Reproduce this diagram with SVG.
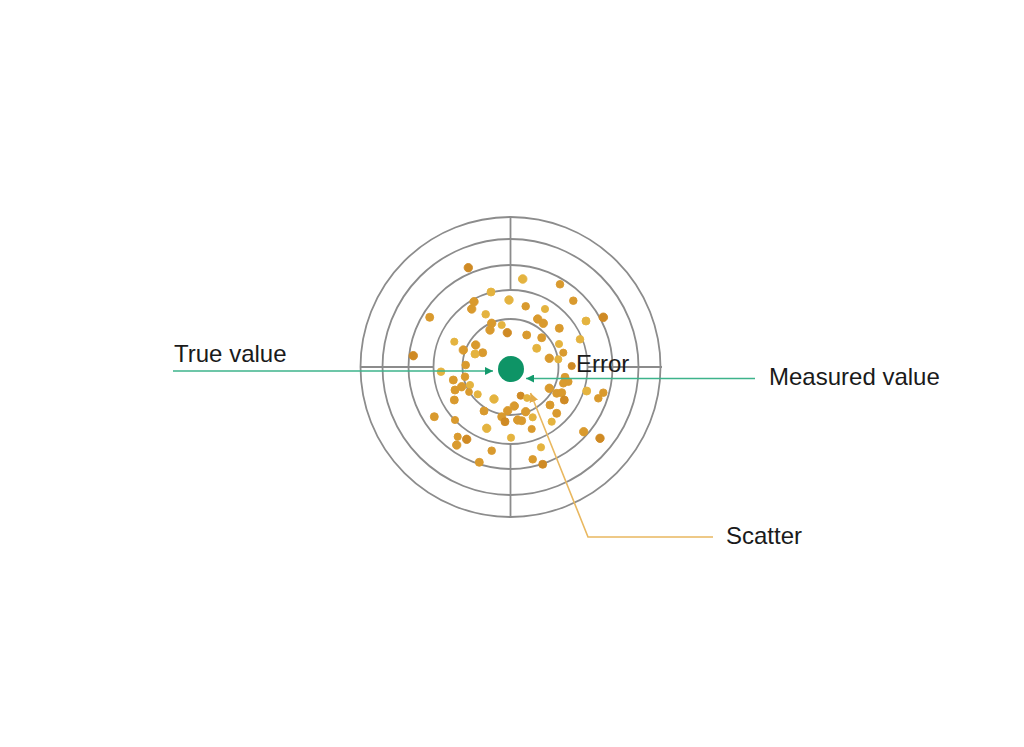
<svg xmlns="http://www.w3.org/2000/svg" width="1024" height="747" viewBox="0 0 1024 747">
<style>
.ring{fill:none;stroke:#8c8c8c;stroke-width:1.8}
.cross{stroke:#8c8c8c;stroke-width:1.8}
.d{fill:#d99a2e;stroke:#d99a2e;stroke-width:0.9}
.l{fill:#e4b33f;stroke:#e4b33f;stroke-width:0.9}
.k{fill:#cf8a24;stroke:#cf8a24;stroke-width:0.9}
.lbl{font-family:"Liberation Sans",Arial,sans-serif;font-size:24px;fill:#1a1a1a}
.gl{stroke:#3db38b;stroke-width:1.6;fill:none}
.tl{stroke:#e9b860;stroke-width:1.6;fill:none}
</style>
<defs>
<marker id="ag" viewBox="0 0 10 10" refX="10" refY="5" markerWidth="8" markerHeight="8" markerUnits="userSpaceOnUse" orient="auto">
<path d="M0,0 L10,5 L0,10 Z" fill="#139a6c"/>
</marker>
<marker id="at" viewBox="0 0 10 10" refX="10" refY="5" markerWidth="9" markerHeight="9" markerUnits="userSpaceOnUse" orient="auto">
<path d="M0,0 L10,5 L0,10 Z" fill="#e3ac4a"/>
</marker>
</defs>
<rect width="1024" height="747" fill="#ffffff"/>
<g id="target">
<circle class="ring" cx="510.5" cy="367" r="150"/>
<circle class="ring" cx="510.5" cy="367" r="128"/>
<circle class="ring" cx="510.5" cy="367" r="102"/>
<circle class="ring" cx="510.5" cy="367" r="77"/>
<circle class="ring" cx="510.5" cy="367" r="48"/>
<line class="cross" x1="510.5" y1="217" x2="510.5" y2="290"/>
<line class="cross" x1="510.5" y1="444" x2="510.5" y2="517"/>
<line class="cross" x1="360.5" y1="367" x2="433.5" y2="367"/>
<line class="cross" x1="587.5" y1="367" x2="662" y2="367"/>
</g>
<g id="scatter">
<circle class="k" cx="468.3" cy="267.7" r="4.2"/>
<circle class="l" cx="522.7" cy="279" r="4.3"/>
<circle class="d" cx="560" cy="284.3" r="3.8"/>
<circle class="l" cx="491" cy="292" r="4"/>
<circle class="d" cx="474" cy="301.7" r="4.2"/>
<circle class="d" cx="471.7" cy="309" r="4.2"/>
<circle class="l" cx="509" cy="300" r="4.2"/>
<circle class="d" cx="525.7" cy="306.3" r="3.8"/>
<circle class="l" cx="545" cy="309" r="3.6"/>
<circle class="d" cx="573.3" cy="300.7" r="3.8"/>
<circle class="d" cx="429.7" cy="317.3" r="4"/>
<circle class="l" cx="485.7" cy="314.3" r="3.8"/>
<circle class="d" cx="537.7" cy="319" r="4.2"/>
<circle class="d" cx="543.3" cy="323.3" r="4.2"/>
<circle class="l" cx="586" cy="321" r="4"/>
<circle class="k" cx="603.3" cy="317.3" r="4.3"/>
<circle class="d" cx="491.7" cy="323.3" r="4.2"/>
<circle class="d" cx="490" cy="330" r="4.2"/>
<circle class="l" cx="501.7" cy="325" r="3.6"/>
<circle class="k" cx="507.3" cy="332.7" r="4.2"/>
<circle class="d" cx="526.7" cy="335" r="4"/>
<circle class="d" cx="541.7" cy="337.7" r="4"/>
<circle class="d" cx="559.3" cy="328.3" r="4"/>
<circle class="l" cx="580" cy="339.3" r="3.8"/>
<circle class="l" cx="454.3" cy="341.7" r="3.6"/>
<circle class="d" cx="463.3" cy="350" r="4.2"/>
<circle class="d" cx="475.7" cy="345" r="4.2"/>
<circle class="d" cx="482.7" cy="352.7" r="4"/>
<circle class="l" cx="475" cy="354" r="4"/>
<circle class="l" cx="536.7" cy="348.3" r="4"/>
<circle class="l" cx="559" cy="344" r="3.6"/>
<circle class="d" cx="563.3" cy="352.7" r="3.6"/>
<circle class="d" cx="549.3" cy="358.3" r="4.2"/>
<circle class="l" cx="558.3" cy="359.3" r="3.6"/>
<circle class="k" cx="413.3" cy="355.7" r="4.2"/>
<circle class="d" cx="465.7" cy="365" r="3.8"/>
<circle class="k" cx="571.7" cy="366" r="3.6"/>
<circle class="l" cx="441" cy="371.7" r="3.8"/>
<circle class="d" cx="465" cy="376.7" r="3.8"/>
<circle class="d" cx="453.3" cy="380" r="4"/>
<circle class="d" cx="461.7" cy="386.7" r="4.2"/>
<circle class="d" cx="455" cy="390" r="4"/>
<circle class="l" cx="470" cy="385" r="3.6"/>
<circle class="d" cx="565" cy="377.3" r="4"/>
<circle class="d" cx="568.3" cy="381.7" r="3.8"/>
<circle class="d" cx="563.3" cy="383.3" r="3.8"/>
<circle class="d" cx="549.3" cy="388.3" r="4.2"/>
<circle class="d" cx="556.7" cy="393.3" r="4"/>
<circle class="d" cx="561.7" cy="392.7" r="4"/>
<circle class="k" cx="564.3" cy="400" r="4"/>
<circle class="l" cx="586.7" cy="391" r="4"/>
<circle class="d" cx="603.3" cy="392.7" r="3.8"/>
<circle class="d" cx="598.3" cy="398.3" r="3.8"/>
<circle class="d" cx="454.3" cy="400" r="4"/>
<circle class="l" cx="477.7" cy="394.3" r="3.6"/>
<circle class="l" cx="494" cy="399" r="4.2"/>
<circle class="k" cx="520.7" cy="395.7" r="3.6"/>
<circle class="d" cx="514.3" cy="406" r="4.2"/>
<circle class="d" cx="507.7" cy="410.7" r="4.2"/>
<circle class="d" cx="525.7" cy="411.7" r="4.2"/>
<circle class="d" cx="484" cy="411" r="4"/>
<circle class="d" cx="501.7" cy="416.7" r="4"/>
<circle class="k" cx="505" cy="421.7" r="4"/>
<circle class="d" cx="517.7" cy="420" r="4.2"/>
<circle class="d" cx="521.7" cy="420.7" r="4"/>
<circle class="l" cx="532.7" cy="417.3" r="3.6"/>
<circle class="d" cx="550" cy="405" r="4"/>
<circle class="d" cx="556.7" cy="413.3" r="4"/>
<circle class="l" cx="551.7" cy="421.7" r="3.6"/>
<circle class="d" cx="434.3" cy="416.7" r="4"/>
<circle class="d" cx="455" cy="420" r="3.6"/>
<circle class="l" cx="486.7" cy="428.3" r="4.2"/>
<circle class="l" cx="511" cy="437.7" r="3.6"/>
<circle class="d" cx="531.7" cy="429" r="3.6"/>
<circle class="k" cx="466.7" cy="439.3" r="4.2"/>
<circle class="d" cx="456.7" cy="445" r="4.2"/>
<circle class="d" cx="457.7" cy="436.7" r="3.6"/>
<circle class="d" cx="491.7" cy="450.7" r="3.8"/>
<circle class="l" cx="541" cy="447.3" r="3.6"/>
<circle class="d" cx="583.7" cy="431.7" r="4.2"/>
<circle class="k" cx="600" cy="438.3" r="4.2"/>
<circle class="d" cx="479.3" cy="462.3" r="4"/>
<circle class="d" cx="532.7" cy="459.3" r="3.8"/>
<circle class="k" cx="542.7" cy="464.3" r="4"/>
<circle class="d" cx="469" cy="392" r="3.4"/>
<circle class="l" cx="527" cy="398" r="3.4"/>
</g>
<g id="bullseye">
<circle cx="511" cy="369" r="13" fill="#0e9466"/>
</g>
<g id="connectors">
<line class="gl" x1="173" y1="371" x2="493" y2="371" marker-end="url(#ag)"/>
<line class="gl" x1="755" y1="378.5" x2="526" y2="378.5" marker-end="url(#ag)"/>
<polyline class="tl" points="713,537 588,537 530.5,393" marker-end="url(#at)"/>
</g>
<g id="labels">
<text class="lbl" x="174" y="362">True value</text>
<text class="lbl" x="576" y="372">Error</text>
<text class="lbl" x="769" y="385">Measured value</text>
<text class="lbl" x="726" y="544">Scatter</text>
</g>
</svg>
